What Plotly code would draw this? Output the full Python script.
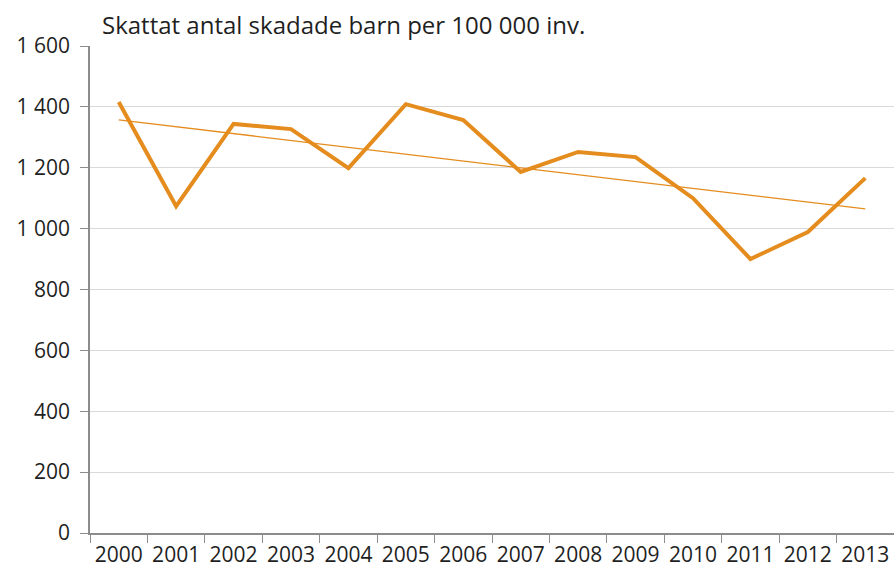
import numpy as np
import plotly.graph_objects as go

years = ["2000", "2001", "2002", "2003", "2004", "2005", "2006",
         "2007", "2008", "2009", "2010", "2011", "2012", "2013"]
injured_per_100k = [1416, 1074, 1344, 1327, 1199, 1409, 1357,
                    1186, 1252, 1235, 1100, 900, 989, 1166]
y_ticks = [0, 200, 400, 600, 800, 1000, 1200, 1400, 1600]
y_tick_text = ["0", "200", "400", "600", "800", "1 000", "1 200", "1 400", "1 600"]
title_text = "Skattat antal skadade barn per 100 000 inv."

# Linear trend fitted to the yearly values
idx = np.arange(len(injured_per_100k))
slope, intercept = np.polyfit(idx, injured_per_100k, 1)
trend = slope * idx + intercept

orange = "#E48C1E"
font_family = "Open Sans, Lato, DejaVu Sans, sans-serif"
text_color = "#1f1f1f"

fig = go.Figure()
fig.add_trace(go.Scatter(
    x=years, y=injured_per_100k, mode="lines",
    line=dict(color=orange, width=4), showlegend=False,
))
fig.add_trace(go.Scatter(
    x=years, y=trend, mode="lines",
    line=dict(color=orange, width=1.3), showlegend=False,
))

fig.update_layout(
    width=894, height=571,
    margin=dict(l=90, r=0, t=46, b=38),
    paper_bgcolor="white", plot_bgcolor="white",
    font=dict(family=font_family, size=21, color=text_color),
    annotations=[dict(
        text=title_text, xref="paper", yref="paper",
        x=0, y=1, xanchor="left", yanchor="bottom",
        xshift=10, yshift=3, showarrow=False,
        font=dict(family=font_family, size=24, color=text_color),
    )],
)

fig.update_xaxes(
    type="category", tickson="boundaries",
    ticks="outside", ticklen=8, tickcolor="#8c8c8c",
    showline=True, linecolor="#8c8c8c", linewidth=1.5,
    showgrid=False, range=[-0.5, 13.5],
    tickangle=0, automargin=False, ticklabelstandoff=2,
    tickfont=dict(size=21),
)
fig.update_yaxes(
    range=[0, 1600], tickvals=y_ticks, ticktext=y_tick_text,
    ticks="outside", ticklen=8, tickcolor="#8c8c8c",
    showline=True, linecolor="#8c8c8c", linewidth=1.5,
    showgrid=True, gridcolor="#d9d9d9", gridwidth=1,
    zeroline=False, automargin=False, ticklabelstandoff=6,
    tickfont=dict(size=21),
)

fig.write_html("out.html")
